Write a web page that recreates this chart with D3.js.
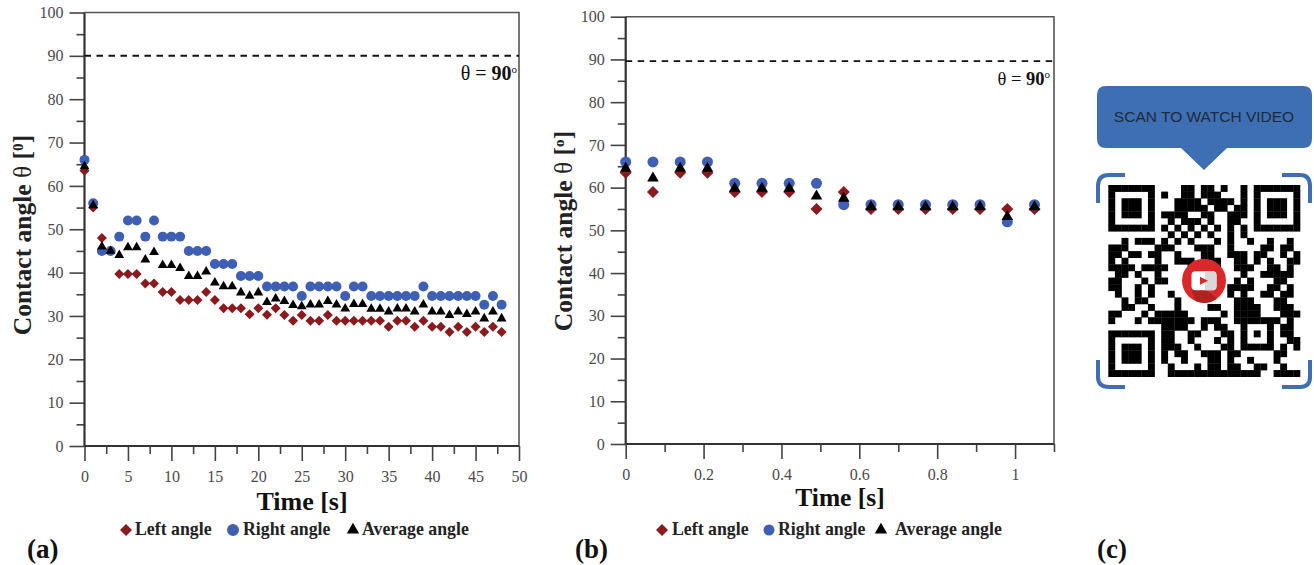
<!DOCTYPE html>
<html>
<head>
<meta charset="utf-8">
<script src="https://cdn.jsdelivr.net/npm/d3@7"></script>
<style>
  html, body { margin: 0; padding: 0; background: #fff; }
  svg { display: block; }
  text { font-family: "Liberation Serif", serif; }
</style>
</head>
<body>
<svg id="chart" width="1314" height="565"></svg>
<script>
// ── Data ─────────────────────────────────────────────────────────
const timeA = d3.range(0, 49);
const leftA = [63.5, 55, 48, 45, 39.7, 39.7, 39.7, 37.5, 37.5, 35.5, 35.5, 33.7, 33.7, 33.7, 35.5, 33.7, 31.8,
  31.8, 31.8, 30.4, 31.8, 30.3, 31.8, 30.2, 28.9, 30.2, 28.9, 28.9, 30.2, 28.9, 28.9, 28.9, 28.9, 28.9, 28.9,
  27.5, 28.9, 28.9, 27.5, 28.9, 27.5, 27.5, 26.3, 27.5, 26.3, 27.5, 26.3, 27.5, 26.3];
const rightA = [66, 56, 45, 45, 48.3, 52, 52, 48.3, 52, 48.3, 48.3, 48.3, 45, 45, 45, 42, 42,
  42, 39.2, 39.2, 39.2, 36.8, 36.8, 36.8, 36.8, 34.6, 36.8, 36.8, 36.8, 36.8, 34.6, 36.8, 36.8, 34.6, 34.6,
  34.6, 34.6, 34.6, 34.6, 36.8, 34.6, 34.6, 34.6, 34.6, 34.6, 34.6, 32.6, 34.6, 32.6];
const avgA = [64.5, 55.5, 46, 45, 44, 45.8, 45.8, 43, 44.7, 41.7, 41.7, 41, 39.2, 39.2, 40.2, 37.7, 36.8,
  36.8, 35.4, 34.6, 35.4, 33.2, 34, 33.4, 32.5, 32.2, 32.6, 32.6, 33.4, 32.6, 31.7, 32.7, 32.7, 31.6, 31.6,
  31, 31.7, 31.7, 31, 32.6, 31, 31, 30.2, 31, 30.4, 31, 29.4, 31, 29.4];

const timeB = [0, 0.07, 0.14, 0.21, 0.28, 0.35, 0.42, 0.49, 0.56, 0.63, 0.7, 0.77, 0.84, 0.91, 0.98, 1.05];
const leftB = [63.5, 59, 63.5, 63.5, 59, 59, 59, 55, 59, 55, 55, 55, 55, 55, 55, 55];
const rightB = [66, 66, 66, 66, 61, 61, 61, 61, 56, 56, 56, 56, 56, 56, 52, 56];
const avgB = [64.5, 62.2, 64.5, 64.5, 59.8, 59.8, 59.8, 58, 57.5, 55.5, 55.5, 55.5, 55.5, 55.5, 53.2, 55.5];

const yTicks = d3.range(0, 101, 10);
const yMinor = d3.range(5, 100, 10);
const xTicksA = d3.range(0, 51, 5);
const xMinorA = d3.range(2.5, 50, 5);
const xTicksB = [0, 0.2, 0.4, 0.6, 0.8, 1];
const xMinorB = [0.1, 0.3, 0.5, 0.7, 0.9, 1.1];
const legendLabels = ['Left angle', 'Right angle', 'Average angle'];

// 29 x 29 modules
const qrRows = [
  '1111111000011011010010' + '1111111',
  '1000001010011011100010' + '1000001',
  '1011101000111101111010' + '1011101',
  '1011101000111110110110' + '1011101',
  '1011101011110011001110' + '1011101',
  '1000001001011101001100' + '1000001',
  '1111111010101010101010' + '1111111',
  '0000000001010101001010' + '0000000',
  '00101110101010001010010010010',
  '11100001110001110010000110110',
  '11011011001000110011101100101',
  '10100001001110111001101010011',
  '11110111100011111001110011010',
  '01101001000000011000100111110',
  '11000101100000000001010001100',
  '11001010000000000011110011010',
  '01001010010000000010100110110',
  '00101100001000000001110001100',
  '00110010001000011001111001110',
  '11000101111100000101111000111',
  '10001011111110111001111111010',
  '00000000111100101100100010110',
  '11111110' + '110011000110' + '10101' + '0110',
  '10000010' + '110010001010' + '10001' + '0011',
  '10111010' + '111001000110' + '11111' + '0101',
  '10111010' + '101100111011' + '00000' + '1100',
  '10111010' + '100100011010' + '01000' + '1000',
  '10000010' + '010001011011' + '00110' + '0100',
  '11111110' + '011111111111' + '11100' + '1111',
];

const RED = '#8b1a1f';
const BLUE = '#3f5fb4';
const AXIS = '#444';
const svg = d3.select('#chart');

// ── Panels ───────────────────────────────────────────────────────
function drawPanel(p) {
  const x = d3.scaleLinear().domain(p.xDomain).range([p.left, p.right]);
  const y = d3.scaleLinear().domain([0, 100]).range([p.bottom, p.top]);
  const g = svg.append('g');

  // frame
  g.append('path')
    .attr('d', `M${p.left},${p.top}H${p.right}V${p.bottom}`)
    .attr('fill', 'none').attr('stroke', '#555').attr('stroke-width', 1.6);

  const styleAxis = a => {
    a.select('.domain').remove();
    a.selectAll('line').attr('stroke', AXIS).attr('stroke-width', 1.6);
    a.selectAll('text').attr('fill', '#4a4a4a').attr('font-size', p.tickFont);
  };

  g.append('g').attr('transform', `translate(${p.left},0)`)
    .call(d3.axisLeft(y).tickValues(yMinor).tickSize(8).tickFormat(''))
    .call(styleAxis);
  g.append('g').attr('transform', `translate(${p.left},0)`)
    .call(d3.axisLeft(y).tickValues(yTicks).tickSize(15).tickPadding(6).tickFormat(d3.format('d')))
    .call(styleAxis);
  g.append('g').attr('transform', `translate(0,${p.bottom})`)
    .call(d3.axisBottom(x).tickValues(p.xMinor).tickSize(8).tickFormat(''))
    .call(styleAxis);
  g.append('g').attr('transform', `translate(0,${p.bottom})`)
    .call(d3.axisBottom(x).tickValues(p.xTicks).tickSize(15).tickPadding(10).tickFormat(d => String(d)))
    .call(styleAxis);

  g.append('line')
    .attr('x1', p.left).attr('x2', p.right)
    .attr('y1', p.bottom).attr('y2', p.bottom)
    .attr('stroke', '#333').attr('stroke-width', 2);
  g.append('line')
    .attr('x1', p.left).attr('x2', p.left)
    .attr('y1', p.top).attr('y2', p.bottom)
    .attr('stroke', '#333').attr('stroke-width', 2.2);

  // theta = 90 reference
  g.append('line')
    .attr('x1', p.left).attr('x2', p.right)
    .attr('y1', y(p.refValue)).attr('y2', y(p.refValue))
    .attr('stroke', '#111').attr('stroke-width', p.refWidth)
    .attr('stroke-dasharray', '6.5,5.5');

  const ref = g.append('text')
    .attr('x', p.right - p.refInset).attr('y', y(p.refValue) + 24)
    .attr('text-anchor', 'end').attr('font-size', p.refFont).attr('fill', '#111');
  ref.append('tspan').text('θ = ');
  ref.append('tspan').attr('font-weight', 700).text('90');
  ref.append('tspan').attr('font-size', 11).attr('dy', -7).text('o');

  // markers
  const series = [
    { name: 'left', values: p.lefts, color: RED, sym: d3.symbolSquare, size: p.diamondSize, rot: 45 },
    { name: 'right', values: p.rights, color: BLUE, sym: d3.symbolCircle, size: p.circleSize, rot: 0 },
    { name: 'avg', values: p.avgs, color: '#000', sym: d3.symbolTriangle, size: p.triSize, rot: 0 },
  ];
  series.forEach(s => {
    g.selectAll(`.mark-${s.name}`)
      .data(s.values)
      .enter()
      .append('path')
      .attr('class', `mark-${s.name}`)
      .attr('d', d3.symbol().type(s.sym).size(s.size))
      .attr('fill', s.color)
      .attr('transform', (d, i) => `translate(${x(p.times[i])},${y(d)}) rotate(${s.rot})`);
  });

  // axis titles
  g.append('text')
    .attr('transform', `translate(${p.yTitleX},${p.yTitleY}) rotate(-90)`)
    .attr('text-anchor', 'middle').attr('font-size', p.titleFont).attr('font-weight', 700).attr('fill', '#222')
    .call(t => {
      t.append('tspan').text('Contact angle ');
      t.append('tspan').attr('font-weight', 400).text('θ');
      t.append('tspan').text(' [');
      t.append('tspan').attr('font-size', p.titleFont * 0.6).attr('dy', -8).text(p.degGlyph);
      t.append('tspan').attr('dy', 8).text(']');
    });
  g.append('text')
    .attr('x', p.xTitleX).attr('y', p.xTitleY)
    .attr('text-anchor', 'middle').attr('font-size', p.xTitleFont).attr('font-weight', 700).attr('fill', '#111')
    .text('Time [s]');

  // legend
  legendLabels.forEach((label, i) => {
    const s = series[i];
    g.append('path')
      .attr('d', d3.symbol().type(s.sym).size(p.legendSizes[i]))
      .attr('fill', s.color)
      .attr('transform', `translate(${p.legendX[i]},${p.legendY}) rotate(${s.rot})`);
    g.append('text')
      .attr('x', p.legendTextX[i]).attr('y', p.legendY + 5)
      .attr('font-size', p.legendFont).attr('font-weight', 700).attr('fill', '#222')
      .text(label);
  });
}

drawPanel({
  times: timeA, lefts: leftA, rights: rightA, avgs: avgA,
  xDomain: [0, 50], xTicks: xTicksA, xMinor: xMinorA,
  left: 84.5, right: 519, top: 12.5, bottom: 446,
  refValue: 90, refWidth: 2, refFont: 20, refInset: 2, tickFont: 16, titleFont: 25.5, xTitleFont: 26,
  diamondSize: 50, circleSize: 78, triSize: 42, degGlyph: '0',
  yTitleX: 31, yTitleY: 235, xTitleX: 302, xTitleY: 510,
  legendX: [126, 233, 353], legendTextX: [135, 243, 362], legendY: 530, legendFont: 17.8,
  legendSizes: [72, 113, 66],
});

drawPanel({
  times: timeB, lefts: leftB, rights: rightB, avgs: avgB,
  xDomain: [0, 1.1], xTicks: xTicksB, xMinor: xMinorB,
  left: 625.7, right: 1054, top: 16.7, bottom: 444,
  refValue: 89.6, refWidth: 1.6, refFont: 18.5, refInset: 4, tickFont: 16, titleFont: 25.5, xTitleFont: 25.5,
  diamondSize: 72, circleSize: 95, triSize: 58, degGlyph: 'o',
  yTitleX: 572, yTitleY: 231, xTitleX: 840, xTitleY: 506,
  legendX: [662, 769, 881], legendTextX: [672, 778, 895], legendY: 530, legendFont: 17.8,
  legendSizes: [72, 95, 66],
});

// panel letters
[['(a)', 27], ['(b)', 575], ['(c)', 1097]].forEach(([t, px]) => {
  svg.append('text').attr('x', px).attr('y', 558)
    .attr('font-size', 27).attr('font-weight', 700).attr('fill', '#111').text(t);
});

// ── QR card ──────────────────────────────────────────────────────
const card = svg.append('g');
card.append('path')
  .attr('d', 'M1106,86H1303Q1312,86 1312,95V139Q1312,148 1303,148H1227L1204,170L1181,148H1106Q1097,148 1097,139V95Q1097,86 1106,86Z')
  .attr('fill', '#3e6fb2');
card.append('text')
  .attr('x', 1204).attr('y', 122).attr('text-anchor', 'middle')
  .attr('font-size', 15.5).attr('fill', '#1d2a3d')
  .style('font-family', '"Liberation Sans", sans-serif')
  .text('SCAN TO WATCH VIDEO');

['M1098,203V186Q1098,175 1109,175H1125', 'M1282,175H1300Q1310,175 1310,186V203',
 'M1098,360V377Q1098,387 1109,387H1125', 'M1282,387H1300Q1310,387 1310,377V360'].forEach(d => {
  card.append('path').attr('d', d).attr('fill', 'none')
    .attr('stroke', '#3e6fb2').attr('stroke-width', 4);
});

const qrX = d3.scaleLinear().domain([0, 29]).range([1108.3, 1300]);
const qrY = d3.scaleLinear().domain([0, 29]).range([185, 376.7]);
const qrCells = qrRows.flatMap((row, r) => row.split('').map((c, i) => ({ r, i, on: c === '1' }))).filter(d => d.on);
card.selectAll('.qr-cell')
  .data(qrCells)
  .enter()
  .append('rect')
  .attr('class', 'qr-cell')
  .attr('x', d => qrX(d.i))
  .attr('y', d => qrY(d.r))
  .attr('width', qrX(1) - qrX(0) + 0.3)
  .attr('height', qrY(1) - qrY(0) + 0.3)
  .attr('fill', '#000');

// YouTube badge
const badge = card.append('g').attr('transform', 'translate(1204,280.7)');
badge.append('circle').attr('r', 22).attr('fill', '#d8282a');
badge.append('path').attr('d', 'M2,9L13,18A22,22 0 0 1 -8,20.5L-12.5,9Z').attr('fill', '#b0211f');
badge.append('rect').attr('x', -12.5).attr('y', -9.5).attr('width', 25).attr('height', 19).attr('rx', 4).attr('fill', '#fff');
badge.append('path').attr('d', 'M1,-9.5H8.5Q12.5,-9.5 12.5,-5.5V5.5Q12.5,9.5 8.5,9.5H1Z').attr('fill', '#d9d9d9');
badge.append('path').attr('d', 'M-4,-4L4,0L-4,4Z').attr('fill', '#d8282a');
</script>
</body>
</html>
